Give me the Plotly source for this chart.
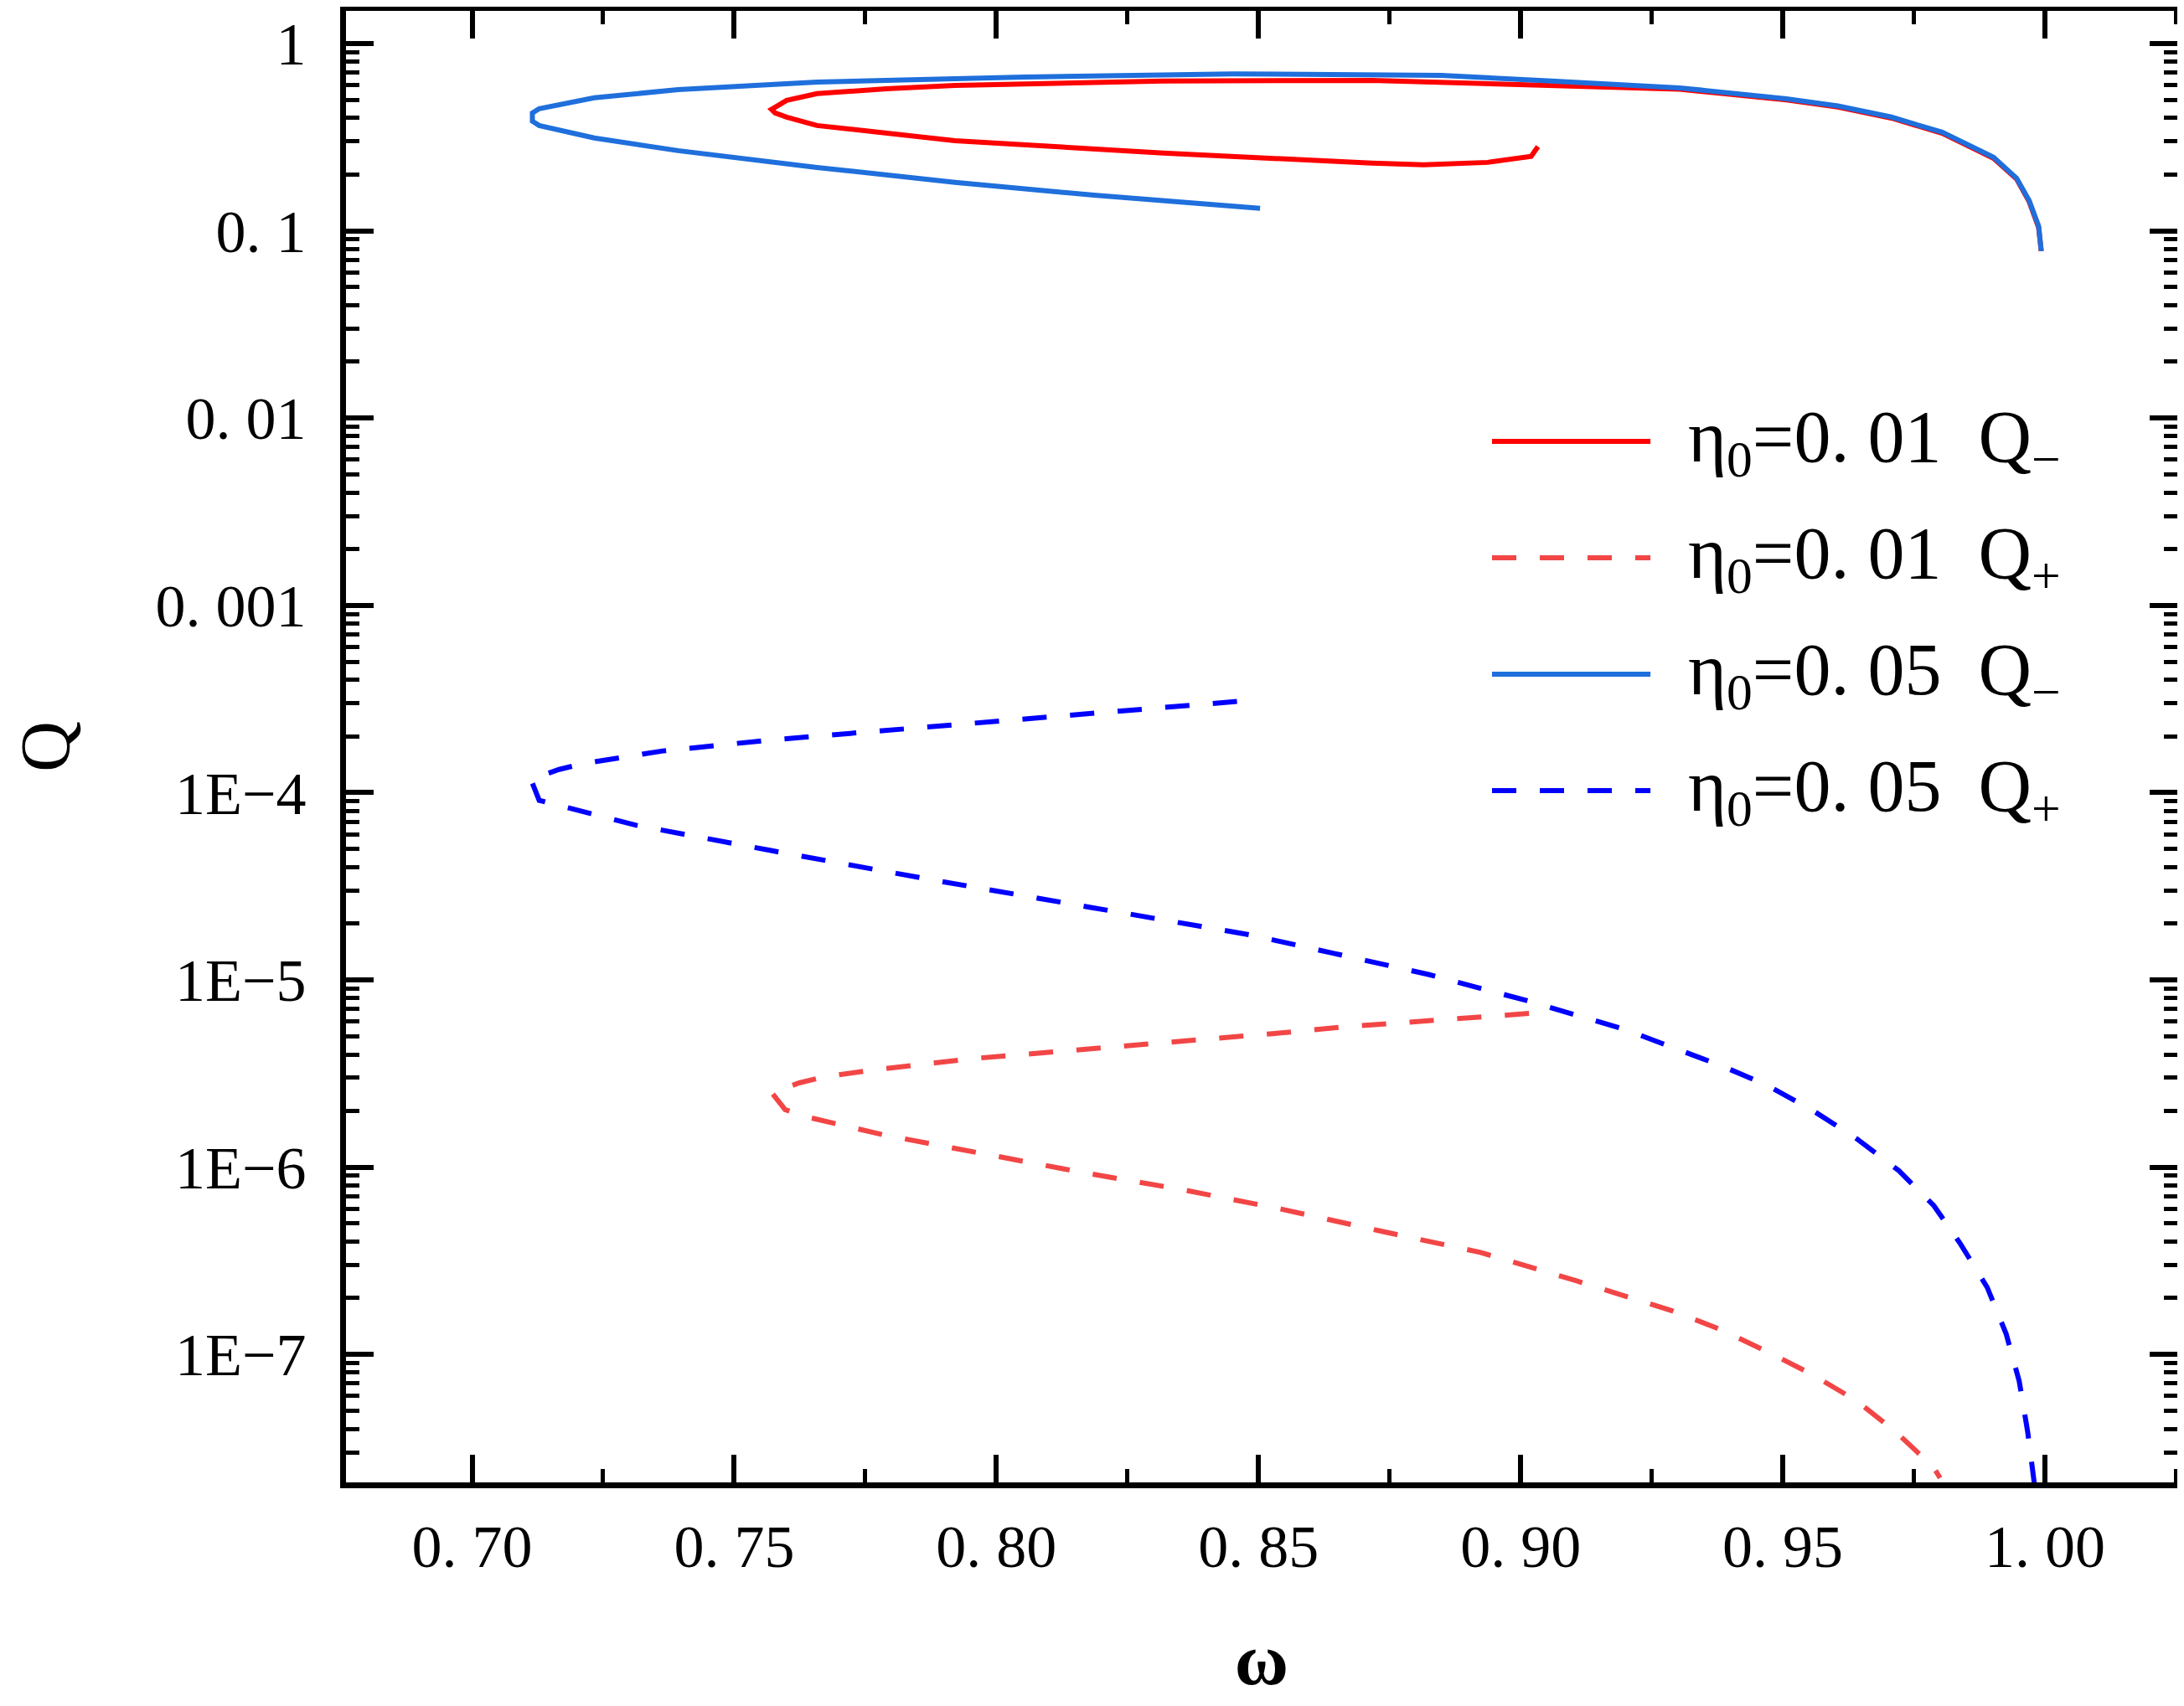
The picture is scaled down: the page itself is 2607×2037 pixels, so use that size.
import plotly.graph_objects as go

# eta0 = 0.05, Q- branch
w_b_minus = [0.8503, 0.8186, 0.7921, 0.7658, 0.7393, 0.7233, 0.7128, 0.7115, 0.7115, 0.7128,
             0.7233, 0.7393, 0.7658, 0.8053, 0.8451, 0.8848, 0.9059, 0.9303, 0.9507, 0.9605,
             0.9707, 0.9804, 0.9902, 0.9946, 0.9970, 0.9988, 0.9993]
q_b_minus = [0.132, 0.155, 0.1815, 0.218, 0.268, 0.313, 0.365, 0.385, 0.426, 0.449,
             0.513, 0.568, 0.623, 0.663, 0.689, 0.677, 0.630, 0.580, 0.507, 0.464,
             0.405, 0.336, 0.247, 0.191, 0.145, 0.106, 0.078]

# eta0 = 0.01, Q- branch
w_r_minus = [0.9033, 0.9020, 0.8937, 0.8815, 0.8716, 0.8318, 0.7921, 0.7790, 0.7658, 0.7600,
             0.7578, 0.7571, 0.7600, 0.7658, 0.7790, 0.7921, 0.8318, 0.8716, 0.9059, 0.9303,
             0.9507, 0.9605, 0.9707, 0.9804, 0.9902, 0.9946, 0.9970, 0.9988, 0.9993]
q_r_minus = [0.282, 0.250, 0.232, 0.225, 0.230, 0.260, 0.303, 0.330, 0.365, 0.405,
             0.426, 0.445, 0.497, 0.540, 0.574, 0.598, 0.630, 0.636, 0.600, 0.570,
             0.500, 0.458, 0.400, 0.332, 0.244, 0.189, 0.143, 0.104, 0.078]

# eta0 = 0.01, Q+ branch
w_r_plus = [0.9016, 0.8665, 0.8532, 0.8339, 0.8148, 0.7954, 0.7763, 0.7670, 0.7624, 0.7572,
            0.7597, 0.7648, 0.7784, 0.7977, 0.8162, 0.8353, 0.8543, 0.8730, 0.8923, 0.9107,
            0.9289, 0.9381, 0.9472, 0.9553, 0.9640, 0.9716, 0.9788, 0.9800]
q_r_plus = [6.62e-6, 5.62e-6, 5.18e-6, 4.68e-6, 4.22e-6, 3.80e-6, 3.30e-6, 3.03e-6, 2.82e-6, 2.49e-6,
            2.03e-6, 1.83e-6, 1.49e-6, 1.18e-6, 9.4e-7, 7.6e-7, 5.98e-7, 4.58e-7, 3.51e-7, 2.47e-7,
            1.71e-7, 1.36e-7, 1.03e-7, 7.9e-8, 5.68e-8, 3.85e-8, 2.49e-8, 2.19e-8]

# eta0 = 0.05, Q+ branch
w_b_plus = [0.8459, 0.8180, 0.7873, 0.7568, 0.7364, 0.7212, 0.7166, 0.7112, 0.7128, 0.7176,
            0.7313, 0.7568, 0.7873, 0.8180, 0.8484, 0.8642, 0.8824, 0.9019, 0.9202, 0.9384,
            0.9470, 0.9557, 0.9641, 0.9721, 0.9788, 0.9839, 0.9890, 0.9926, 0.9951, 0.9967,
            0.9981, 0.9985]
q_b_plus = [3.07e-4, 2.65e-4, 2.23e-4, 1.91e-4, 1.67e-4, 1.43e-4, 1.33e-4, 1.18e-4, 9.1e-5, 8.4e-5,
            6.7e-5, 4.92e-5, 3.44e-5, 2.44e-5, 1.74e-5, 1.39e-5, 1.07e-5, 7.66e-6, 5.40e-6, 3.47e-6,
            2.74e-6, 2.01e-6, 1.42e-6, 9.6e-7, 6.24e-7, 3.89e-7, 2.28e-7, 1.29e-7, 7.2e-8, 3.88e-8,
            2.09e-8, 1.58e-8]

x_ticks = [0.70, 0.75, 0.80, 0.85, 0.90, 0.95, 1.00]
x_tick_text = ["0. 70", "0. 75", "0. 80", "0. 85", "0. 90", "0. 95", "1. 00"]
y_ticks = [1, 0.1, 0.01, 0.001, 1e-4, 1e-5, 1e-6, 1e-7]
y_tick_text = ["1", "0. 1", "0. 01", "0. 001", "1E−4", "1E−5", "1E−6", "1E−7"]

legend_names = ["η<sub>0</sub>=0. 01&nbsp;&nbsp;Q<sub>−</sub>",
                "η<sub>0</sub>=0. 01&nbsp;&nbsp;Q<sub>+</sub>",
                "η<sub>0</sub>=0. 05&nbsp;&nbsp;Q<sub>−</sub>",
                "η<sub>0</sub>=0. 05&nbsp;&nbsp;Q<sub>+</sub>"]

red = "#ff0000"
red_dash = "#f24646"
blue = "#1f6fdc"
blue_dash = "#0000ff"
dash = "29px,28px"

series = [
    (w_r_minus, q_r_minus, red, "solid"),
    (w_r_plus, q_r_plus, red_dash, dash),
    (w_b_minus, q_b_minus, blue, "solid"),
    (w_b_plus, q_b_plus, blue_dash, dash),
]

fig = go.Figure()
for (w, q, c, d), name in zip(series, legend_names):
    fig.add_trace(go.Scatter(x=w, y=q, mode="lines", name=name, showlegend=False,
                             line=dict(color=c, width=6, dash=d)))

# hand-made legend (long line samples like the original)
leg_y = [0.7074, 0.6283, 0.5492, 0.4701]
for (w, q, c, d), name, yy in zip(series, legend_names, leg_y):
    fig.add_shape(type="line", xref="paper", yref="paper", x0=0.6258, x1=0.7123, y0=yy, y1=yy,
                  line=dict(color=c, width=6, dash=d))
    fig.add_annotation(xref="paper", yref="paper", x=0.7320, y=yy, xanchor="left", yanchor="middle",
                       text=name, showarrow=False,
                       font=dict(family="Liberation Serif", size=88, color="black"))

font_family = "Liberation Serif"
axis_common = dict(showline=True, linewidth=7, linecolor="black", mirror="allticks",
                   ticks="inside", ticklen=33, tickwidth=5.5, tickcolor="black",
                   showgrid=False, zeroline=False,
                   tickfont=dict(family=font_family, size=72, color="black"))

minor_y = [m * 10.0 ** k for k in range(-8, 1) for m in range(2, 10)]

fig.update_xaxes(range=[0.67595, 1.02525], tickvals=x_ticks, ticktext=x_tick_text,
                 minor=dict(ticks="inside", ticklen=16, tickwidth=5, tickcolor="black", dtick=0.025,
                            tick0=0.675, showgrid=False),
                 ticklabelstandoff=8,
                 title=dict(text="<b>ω</b>", font=dict(family=font_family, size=88, color="black"),
                            standoff=66),
                 **axis_common)
fig.update_yaxes(type="log", range=[-7.683, 0.1744], tickvals=y_ticks, ticktext=y_tick_text,
                 minor=dict(ticks="inside", ticklen=16, tickwidth=5, tickcolor="black",
                            tickvals=minor_y, showgrid=False),
                 ticklabelstandoff=26,
                 title=dict(text="Q", font=dict(family=font_family, size=84, color="black"),
                            standoff=93),
                 **axis_common)

fig.update_layout(width=2607, height=2037, plot_bgcolor="white", paper_bgcolor="white",
                  font=dict(family=font_family, size=72, color="black"),
                  margin=dict(l=405, r=16, t=5, b=275, autoexpand=False))

fig.write_html("out.html")
